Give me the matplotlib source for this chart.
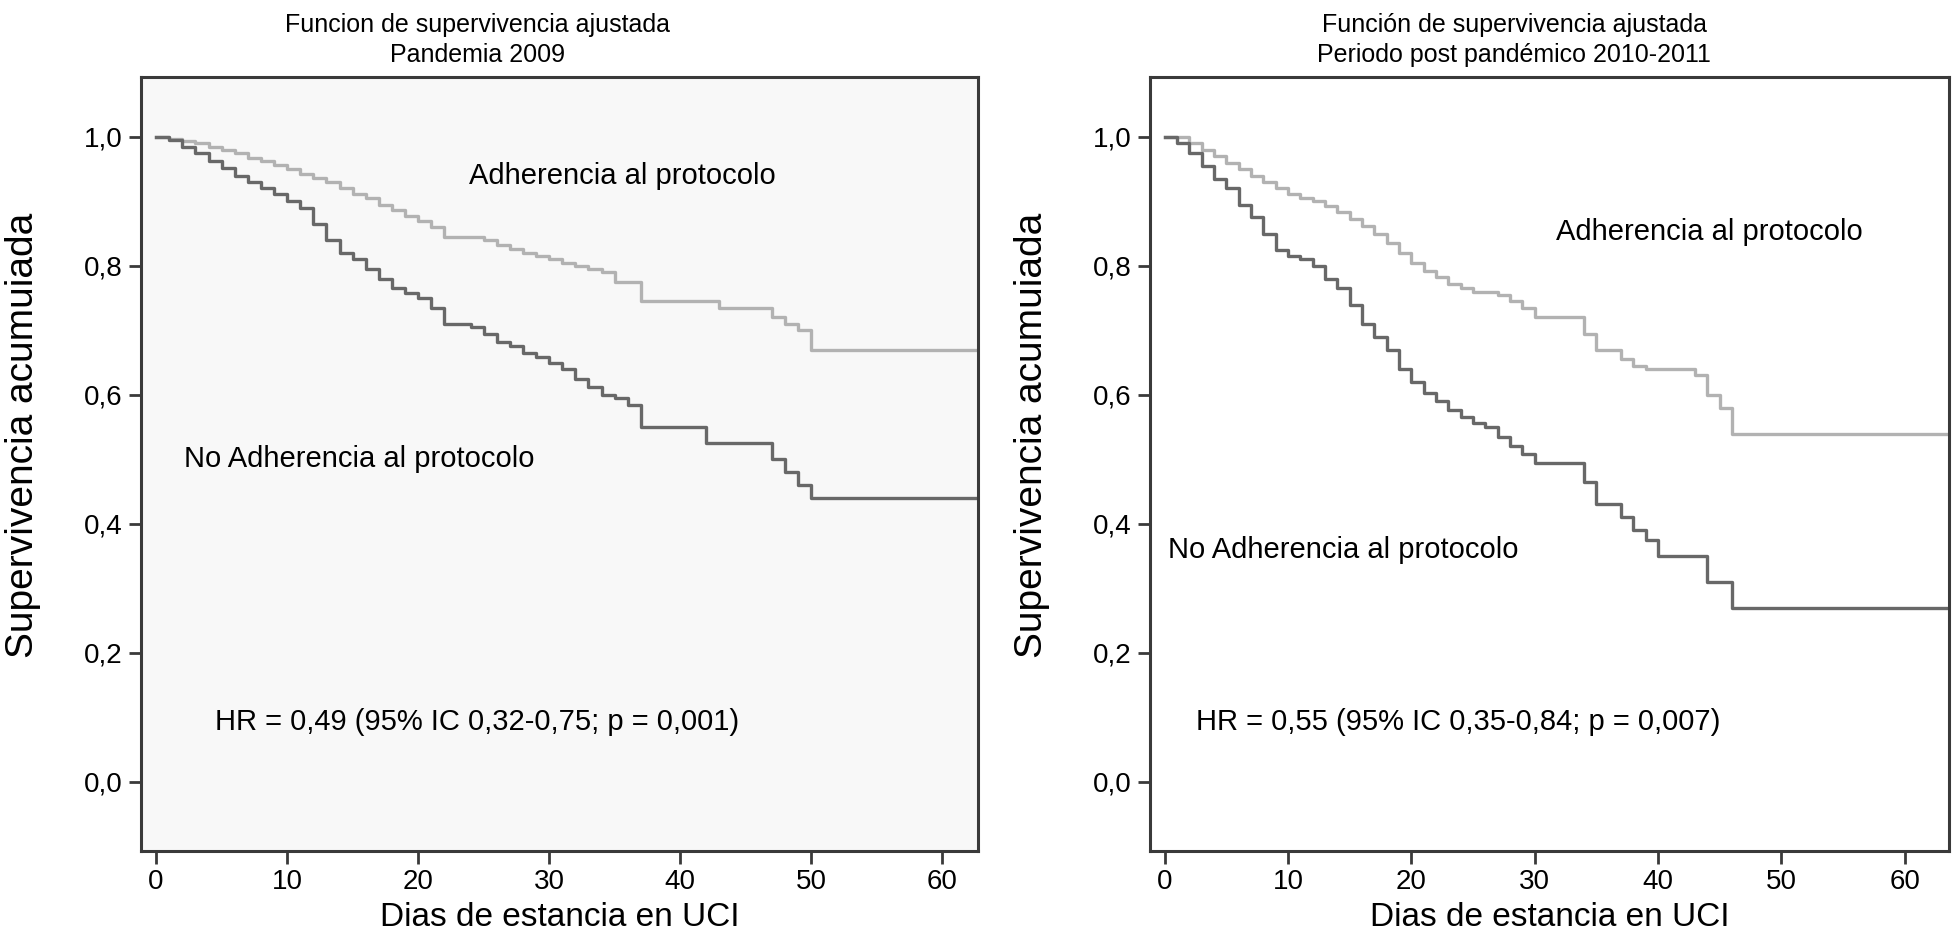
import matplotlib
matplotlib.use('Agg')
import matplotlib.pyplot as plt

# Curvas de supervivencia ajustada
# Pandemia 2009
p09_adh_dias = [0, 1, 2, 3, 4, 5, 6, 7, 8, 9, 10, 11, 12, 13, 14, 15, 16, 17, 18, 19, 20,
                21, 22, 25, 26, 27, 28, 29, 30, 31, 32, 33, 34, 35, 37, 43, 47, 48, 49, 50, 64]
p09_adh_surv = [1.0, 0.997, 0.993, 0.99, 0.985, 0.98, 0.975, 0.968, 0.962, 0.957, 0.95,
                0.943, 0.936, 0.93, 0.92, 0.912, 0.905, 0.895, 0.887, 0.878, 0.87, 0.86,
                0.845, 0.84, 0.832, 0.826, 0.82, 0.815, 0.81, 0.805, 0.8, 0.795, 0.79,
                0.775, 0.745, 0.735, 0.72, 0.71, 0.70, 0.67, 0.67]
p09_noadh_dias = [0, 1, 2, 3, 4, 5, 6, 7, 8, 9, 10, 11, 12, 13, 14, 15, 16, 17, 18, 19, 20,
                  21, 22, 24, 25, 26, 27, 28, 29, 30, 31, 32, 33, 34, 35, 36, 37, 42, 47,
                  48, 49, 50, 64]
p09_noadh_surv = [1.0, 0.995, 0.985, 0.975, 0.962, 0.952, 0.94, 0.93, 0.92, 0.912, 0.9,
                  0.89, 0.865, 0.84, 0.82, 0.81, 0.795, 0.78, 0.765, 0.758, 0.75, 0.735,
                  0.71, 0.705, 0.695, 0.682, 0.675, 0.665, 0.658, 0.65, 0.64, 0.625, 0.612,
                  0.6, 0.595, 0.585, 0.55, 0.525, 0.50, 0.48, 0.46, 0.44, 0.44]

# Periodo post pandémico 2010-2011
post_adh_dias = [0, 2, 3, 4, 5, 6, 7, 8, 9, 10, 11, 12, 13, 14, 15, 16, 17, 18, 19, 20, 21,
                 22, 23, 24, 25, 27, 28, 29, 30, 34, 35, 37, 38, 39, 43, 44, 45, 46, 64]
post_adh_surv = [1.0, 0.99, 0.98, 0.97, 0.96, 0.95, 0.94, 0.93, 0.92, 0.912, 0.906, 0.9,
                 0.893, 0.883, 0.873, 0.862, 0.85, 0.835, 0.82, 0.805, 0.792, 0.782, 0.772,
                 0.765, 0.76, 0.755, 0.745, 0.735, 0.72, 0.695, 0.67, 0.655, 0.645, 0.64,
                 0.63, 0.60, 0.58, 0.54, 0.54]
post_noadh_dias = [0, 1, 2, 3, 4, 5, 6, 7, 8, 9, 10, 11, 12, 13, 14, 15, 16, 17, 18, 19, 20,
                   21, 22, 23, 24, 25, 26, 27, 28, 29, 30, 34, 35, 37, 38, 39, 40, 44, 46, 64]
post_noadh_surv = [1.0, 0.99, 0.975, 0.955, 0.935, 0.92, 0.895, 0.875, 0.85, 0.825, 0.815,
                   0.81, 0.8, 0.78, 0.765, 0.74, 0.71, 0.69, 0.67, 0.64, 0.62, 0.603, 0.59,
                   0.577, 0.565, 0.557, 0.55, 0.535, 0.52, 0.508, 0.495, 0.465, 0.43, 0.41,
                   0.39, 0.375, 0.35, 0.31, 0.27, 0.27]

titulos = ['Funcion de supervivencia ajustada\nPandemia 2009',
           'Función de supervivencia ajustada\nPeriodo post pandémico 2010-2011']
hr_textos = ['HR = 0,49 (95% IC 0,32-0,75; p = 0,001)',
             'HR = 0,55 (95% IC 0,35-0,84; p = 0,007)']
xticks = [0, 10, 20, 30, 40, 50, 60]
yticks = [0.0, 0.2, 0.4, 0.6, 0.8, 1.0]
ytick_labels = ['0,0', '0,2', '0,4', '0,6', '0,8', '1,0']

FUENTE = ['Liberation Sans', 'DejaVu Sans']
col_adh = '#b2b2b2'
col_noadh = '#686868'
col_spine = '#3a3a3a'

fig = plt.figure(figsize=(19.59, 9.38), dpi=100)
ax1 = fig.add_axes([0.072, 0.093, 0.427, 0.825])
ax2 = fig.add_axes([0.587, 0.093, 0.408, 0.825])

paneles = [
    (ax1, p09_adh_dias, p09_adh_surv, p09_noadh_dias, p09_noadh_surv, '#f8f8f8',
     (-1.15, 62.7), 0.402, -0.12, (23.9, 0.94), (2.1, 0.50), (4.5, 0.093)),
    (ax2, post_adh_dias, post_adh_surv, post_noadh_dias, post_noadh_surv, 'white',
     (-1.2, 63.6), 0.456, -0.125, (31.7, 0.852), (0.3, 0.359), (2.5, 0.093)),
]

for i, (ax, ad, asv, nd, nsv, bg, xl, tx, ylx, pos_a, pos_n, pos_hr) in enumerate(paneles):
    ax.set_facecolor(bg)
    ax.step(ad, asv, where='post', color=col_adh, lw=2.4)
    ax.step(nd, nsv, where='post', color=col_noadh, lw=2.4)
    ax.set_xlim(*xl)
    ax.set_ylim(-0.107, 1.093)
    ax.set_xticks(xticks)
    ax.set_xticklabels([str(t) for t in xticks], family=FUENTE, fontsize=20)
    ax.set_yticks(yticks)
    ax.set_yticklabels(ytick_labels, family=FUENTE, fontsize=20)
    ax.tick_params(direction='out', length=9, width=2, color=col_spine, pad=4)
    for s in ax.spines.values():
        s.set_color(col_spine)
        s.set_linewidth(2.2)
    ax.annotate(titulos[i], xy=(tx, 1.0), xycoords='axes fraction', xytext=(0, 7),
                textcoords='offset points', ha='center', va='bottom', family=FUENTE,
                fontsize=18, linespacing=1.35)
    ax.set_xlabel('Dias de estancia en UCI', family=FUENTE, fontsize=24, labelpad=5)
    ax.set_ylabel('Supervivencia acumuiada', family=FUENTE, fontsize=28)
    ax.yaxis.set_label_coords(ylx, 0.537)
    ax.text(pos_a[0], pos_a[1], 'Adherencia al protocolo', family=FUENTE, fontsize=21,
            va='center', ha='left')
    ax.text(pos_n[0], pos_n[1], 'No Adherencia al protocolo', family=FUENTE, fontsize=21,
            va='center', ha='left')
    ax.text(pos_hr[0], pos_hr[1], hr_textos[i], family=FUENTE, fontsize=21,
            va='center', ha='left')

fig.savefig('out.png', dpi=100)
